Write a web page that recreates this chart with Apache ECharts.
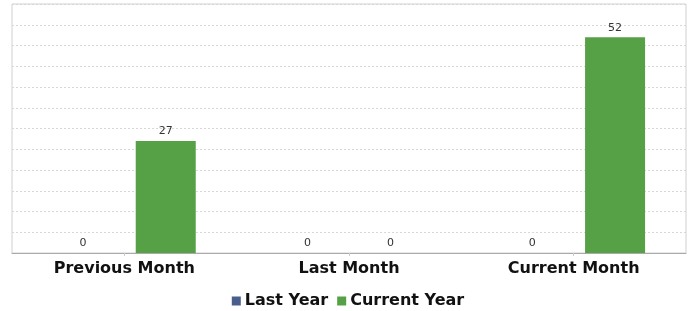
<!DOCTYPE html>
<html>
<head>
<meta charset="utf-8">
<script src="https://cdn.jsdelivr.net/npm/echarts@6/dist/echarts.min.js"></script>
<style>
  html, body { margin: 0; padding: 0; background: #fff; }
  #main { width: 696px; height: 311px; }
</style>
</head>
<body>
<div id="main"></div>
<script>
// categories and values
var categories = ['Previous Month', 'Last Month', 'Current Month'];
var lastYear = [0, 0, 0];
var currentYear = [27, 0, 52];
var seriesNames = ['Last Year', 'Current Year'];

var myChart = echarts.init(document.getElementById('main'));

var labelStyle = {
    show: true,
    position: 'top',
    distance: 4,
    color: '#333',
    fontSize: 11,
    fontFamily: 'DejaVu Sans'
};

var option = {
    animation: false,
    grid: {
        left: 12,
        right: 10,
        top: 4,
        bottom: 58,
        show: true,
        borderColor: '#d0d0d0',
        borderWidth: 1
    },
    legend: {
        data: seriesNames,
        top: 288,
        left: 'center',
        itemWidth: 9,
        itemHeight: 9,
        itemGap: 9,
        icon: 'rect',
        textStyle: {
            fontFamily: 'DejaVu Sans',
            fontWeight: 'bold',
            fontSize: 16,
            color: '#111',
            padding: [0, 0, 0, -1]
        }
    },
    xAxis: {
        type: 'category',
        data: categories,
        axisLine: { lineStyle: { color: '#aaa', width: 1 } },
        axisTick: { show: true, alignWithLabel: true, length: 3, lineStyle: { color: '#ccc' } },
        axisLabel: {
            fontFamily: 'DejaVu Sans',
            fontWeight: 'bold',
            fontSize: 16,
            color: '#111',
            margin: 8
        }
    },
    yAxis: {
        type: 'value',
        min: 0,
        max: 60,
        interval: 5,
        axisLine: { show: false },
        axisTick: { show: false },
        axisLabel: { show: false },
        splitLine: { lineStyle: { color: '#d8d8d8', type: [2, 2], width: 1 } }
    },
    series: [
        {
            name: seriesNames[0],
            type: 'bar',
            data: lastYear,
            barWidth: 60,
            barGap: '38%',
            itemStyle: { color: '#4a5e8c' },
            label: labelStyle
        },
        {
            name: seriesNames[1],
            type: 'bar',
            data: currentYear,
            barWidth: 60,
            barGap: '38%',
            itemStyle: { color: '#56a046' },
            label: labelStyle
        }
    ]
};

myChart.setOption(option);
</script>
</body>
</html>
